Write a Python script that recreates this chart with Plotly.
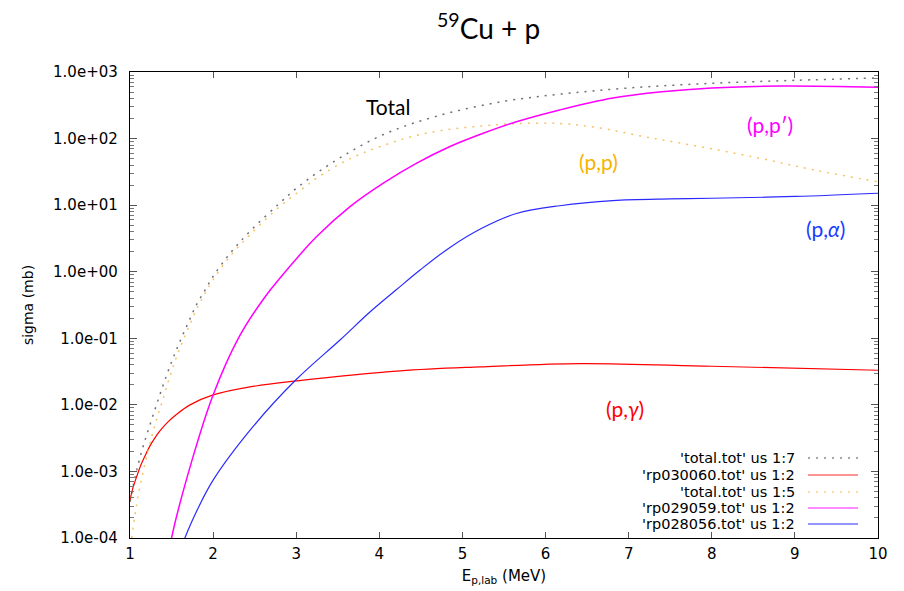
import plotly.graph_objects as go

# ---- data ----
E_total = [1.0, 1.05, 1.1, 1.15, 1.2, 1.3, 1.4, 1.5, 1.6, 1.7, 1.8, 1.9, 2.0, 2.2, 2.44, 2.8, 3.05, 3.5, 4.05, 4.7, 5.5, 6.2, 7.0, 8.0, 9.0, 10.0]
sig_total = [3.5e-4, 7.1e-4, 1.3e-3, 2.2e-3, 3.5e-3, 8.5e-3, 0.02, 0.044, 0.089, 0.17, 0.32, 0.52, 0.85, 1.86, 4.0, 10.7, 20, 49, 115, 219, 363, 468, 575, 676, 750, 813]

E_ng = [1.0, 1.036, 1.084, 1.132, 1.18, 1.24, 1.30, 1.36, 1.457, 1.566, 1.722, 2.0, 2.444, 3.01, 4.25, 5.21, 6.42, 8.0, 10.0]
sig_ng = [3.7e-4, 5.7e-4, 8.6e-4, 1.26e-3, 1.71e-3, 2.42e-3, 3.2e-3, 4.07e-3, 5.56e-3, 7.3e-3, 0.0100, 0.0141, 0.0186, 0.0229, 0.0324, 0.0372, 0.0417, 0.038, 0.0331]

E_pp = [1.02, 1.06, 1.1, 1.15, 1.2, 1.3, 1.4, 1.5, 1.6, 1.7, 1.8, 1.9, 2.0, 2.2, 2.44, 2.8, 3.05, 3.25, 3.65, 4.05, 4.45, 4.85, 5.25, 5.65, 6.17, 6.6, 7.22, 7.9, 8.6, 9.22, 10.0]
sig_pp = [1.0e-4, 2.2e-4, 4.5e-4, 8.9e-4, 1.66e-3, 5.0e-3, 0.0126, 0.032, 0.071, 0.14, 0.27, 0.47, 0.76, 1.68, 3.55, 9.5, 16.6, 25.7, 50, 79, 112, 138, 155, 168, 168, 148, 105, 74, 50, 34, 22.4]

E_ppr = [1.45, 1.5, 1.75, 2.0, 2.3, 2.6, 2.886, 3.246, 3.647, 4.048, 4.45, 4.85, 5.25, 5.65, 6.17, 6.81, 7.4, 8.0, 8.82, 10.0]
sig_ppr = [4e-5, 1e-4, 1.53e-3, 0.0141, 0.098, 0.38, 1.06, 3.37, 9.5, 21.4, 42.7, 75.9, 120, 179, 269, 407, 505, 575, 617, 589]

E_pa = [1.6, 1.66, 1.8, 2.0, 2.48, 3.0, 3.53, 3.89, 4.2, 4.49, 4.85, 5.25, 5.65, 6.17, 6.81, 7.5, 8.0, 9.0, 10.0]
sig_pa = [6.3e-5, 1e-4, 2.5e-4, 7.4e-4, 4.7e-3, 0.024, 0.095, 0.25, 0.53, 1.06, 2.32, 4.61, 7.5, 9.8, 11.7, 12.4, 12.7, 13.5, 15.1]

legend_labels = ["'total.tot' us 1:7", "'rp030060.tot' us 1:2", "'total.tot' us 1:5",
                 "'rp029059.tot' us 1:2", "'rp028056.tot' us 1:2"]
ytick_vals = [1e-4, 1e-3, 1e-2, 1e-1, 1e0, 1e1, 1e2, 1e3]
ytick_text = ["1.0e-04", "1.0e-03", "1.0e-02", "1.0e-01", "1.0e+00", "1.0e+01", "1.0e+02", "1.0e+03"]
xtick_vals = [1, 2, 3, 4, 5, 6, 7, 8, 9, 10]

# ---- styles ----
c_total = "#707070"
c_ng = "#ff0000"
c_pp = "#f7c266"
c_ppr = "#ff00ff"
c_pa = "#2a2aff"
DOTS = "2px,6px"

fig = go.Figure()
series = [
    (E_total, sig_total, c_total, DOTS, 1.5),
    (E_ng, sig_ng, c_ng, "solid", 1.2),
    (E_pp, sig_pp, c_pp, DOTS, 1.5),
    (E_ppr, sig_ppr, c_ppr, "solid", 1.5),
    (E_pa, sig_pa, c_pa, "solid", 1.2),
]
for (x, y, c, d, w), name in zip(series, legend_labels):
    fig.add_trace(go.Scatter(x=x, y=y, mode="lines", name=name,
                             line=dict(color=c, dash=d, width=w, shape="spline", smoothing=1.0),
                             showlegend=False))

# reference pixel geometry of the plot box (page coordinates)
RL, RR, RT, RB = 130, 878, 72, 538
OFF = 8  # page body margin
def px(x):
    return (x - RL) / (RR - RL)
def py(y):
    return (RB - y) / (RB - RT)

FW, FH = 904 - OFF, 591 - OFF

rows = [458, 475, 492, 508, 524]
leg_colors = ["#8a8a8a", "#ff7070", "#f8d08a", "#ff66ff", "#7070ff"]
leg_dash = [DOTS, "solid", DOTS, "solid", "solid"]
annotations = []
shapes = []
TICKFONT = "DejaVu Sans, Liberation Sans, Arial"
for lab, r, c, d in zip(legend_labels, rows, leg_colors, leg_dash):
    annotations.append(dict(x=px(797), y=py(r), xref="paper", yref="paper", text=lab,
                            showarrow=False, xanchor="right", yanchor="middle",
                            font=dict(family=TICKFONT, size=14.5, color="black")))
    shapes.append(dict(type="line", xref="paper", yref="paper", x0=px(808), x1=px(858),
                       y0=py(r), y1=py(r), line=dict(color=c, width=1.6, dash=d)))

lab_font = "Lato, Noto Sans, sans-serif"
for text, x, y, c in [("Total", 388, 107, "black"), ("(p,p′)", 770, 124, c_ppr),
                      ("(p,p)", 598, 161, "#f5b400"), ("(p,<i>α</i>)", 825, 228, "#1a3cff"),
                      ("(p,<i>γ</i>)", 625, 408, "#ff0000")]:
    annotations.append(dict(x=px(x), y=py(y), xref="paper", yref="paper", text=text,
                            showarrow=False, xanchor="center", yanchor="middle",
                            font=dict(family=lab_font, size=21, color=c)))

annotations.append(dict(x=px(488), y=py(26), xref="paper", yref="paper",
                        text="<sup>59</sup>Cu + p", showarrow=False, xanchor="center", yanchor="middle",
                        font=dict(family=lab_font, size=28, color="black")))

fig.update_layout(
    width=FW, height=FH,
    margin=dict(l=RL - OFF, r=904 - RR, t=RT - OFF, b=591 - RB, pad=0, autoexpand=False),
    paper_bgcolor="white", plot_bgcolor="white",
    annotations=annotations, shapes=shapes,
    font=dict(family=TICKFONT, size=14, color="black"),
)
fig.update_xaxes(range=[1, 10], tickvals=xtick_vals, ticks="inside", ticklen=6, tickcolor="#555",
                 showline=True, linecolor="black", linewidth=1.4, mirror="allticks",
                 showgrid=False, zeroline=False, ticklabelstandoff=2, automargin=False,
                 tickfont=dict(size=15, family=TICKFONT),
                 title=dict(text="E<sub>p,lab</sub> (MeV)", standoff=8,
                            font=dict(size=15, family=TICKFONT)))
fig.update_yaxes(type="log", range=[-4, 3], tickvals=ytick_vals, ticktext=ytick_text,
                 ticks="inside", ticklen=7, tickcolor="#555",
                 minor=dict(ticks="inside", ticklen=4, tickcolor="#777", dtick="D1", showgrid=False),
                 showline=True, linecolor="black", linewidth=1.4, mirror="allticks",
                 showgrid=False, zeroline=False, ticklabelstandoff=8, automargin=False,
                 tickfont=dict(size=15, family=TICKFONT),
                 title=dict(text="sigma (mb)", standoff=16,
                            font=dict(size=14, family=TICKFONT)))

fig.write_html("out.html")
